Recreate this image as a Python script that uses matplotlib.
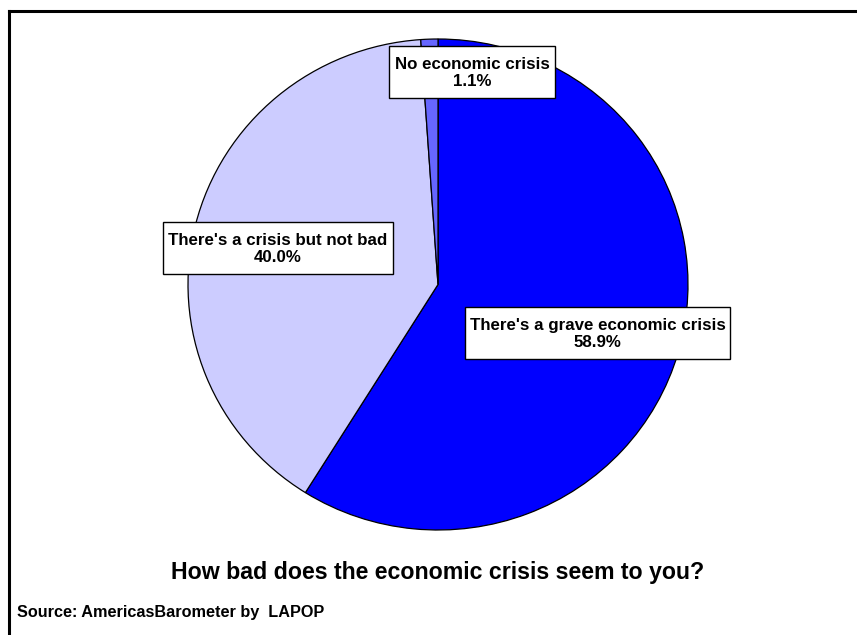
import matplotlib
matplotlib.use("Agg")
import matplotlib.pyplot as plt
from matplotlib.lines import Line2D
from matplotlib.patches import Rectangle

categories = ["There's a grave economic crisis", "There's a crisis but not bad", "No economic crisis"]
values = [58.9, 40.0, 1.1]
colors = ["#0000FF", "#CCCCFF", "#6666FF"]
title = "How bad does the economic crisis seem to you?"
source = "Source: AmericasBarometer by  LAPOP"

W, H = 857, 635
fig = plt.figure(figsize=(W / 100, H / 100), dpi=100)
fig.patch.set_facecolor("white")

def fx(px):
    return px / W

def fy(py):
    return 1 - py / H

# pie axes (pixel bbox of the pie)
left, right, top, bottom = 188, 688, 39, 530
ax = fig.add_axes([fx(left), fy(bottom), fx(right - left), (bottom - top) / H])
ax.pie(values, colors=colors, startangle=90, counterclock=False,
       wedgeprops=dict(edgecolor="black", linewidth=0.9), radius=1)
ax.set_aspect("auto")
ax.set_xlim(-1, 1)
ax.set_ylim(-1, 1)
ax.axis("off")

font = ["Liberation Sans", "DejaVu Sans"]
# label boxes: (x0, y0, x1, y1) in pixels from top-left
label_boxes = [(465, 307, 730, 359), (163, 222, 393, 274), (389, 46, 555, 98)]
for cat, val, (x0, y0, x1, y1) in zip(categories, values, label_boxes):
    fig.add_artist(Rectangle((fx(x0 + 1), fy(y1 + 1)), fx(x1 - x0), (y1 - y0) / H,
                             transform=fig.transFigure, facecolor="#aaaaaa",
                             edgecolor="none", zorder=4))
    fig.add_artist(Rectangle((fx(x0), fy(y1)), fx(x1 - x0), (y1 - y0) / H,
                             transform=fig.transFigure, facecolor="white",
                             edgecolor="black", linewidth=1.0, zorder=5))
    fig.text(fx((x0 + x1) / 2), fy((y0 + y1) / 2 + 1), f"{cat}\n{val:.1f}%",
             ha="center", va="center", fontsize=12.2, fontweight="bold",
             family=font, linespacing=1.2, zorder=6)

fig.text(fx(438), fy(572), title, ha="center", va="center",
         fontsize=16.7, fontweight="bold", family=font)
fig.text(fx(17), fy(612), source, ha="left", va="center",
         fontsize=11.7, fontweight="bold", family=font)

# frame lines (top and left)
fig.add_artist(Line2D([fx(9), 1], [fy(11), fy(11)], color="black", linewidth=2.2,
                      transform=fig.transFigure))
fig.add_artist(Line2D([fx(9), fx(9)], [fy(11), 0], color="black", linewidth=2.2,
                      transform=fig.transFigure))

fig.savefig("out.png", dpi=100)
